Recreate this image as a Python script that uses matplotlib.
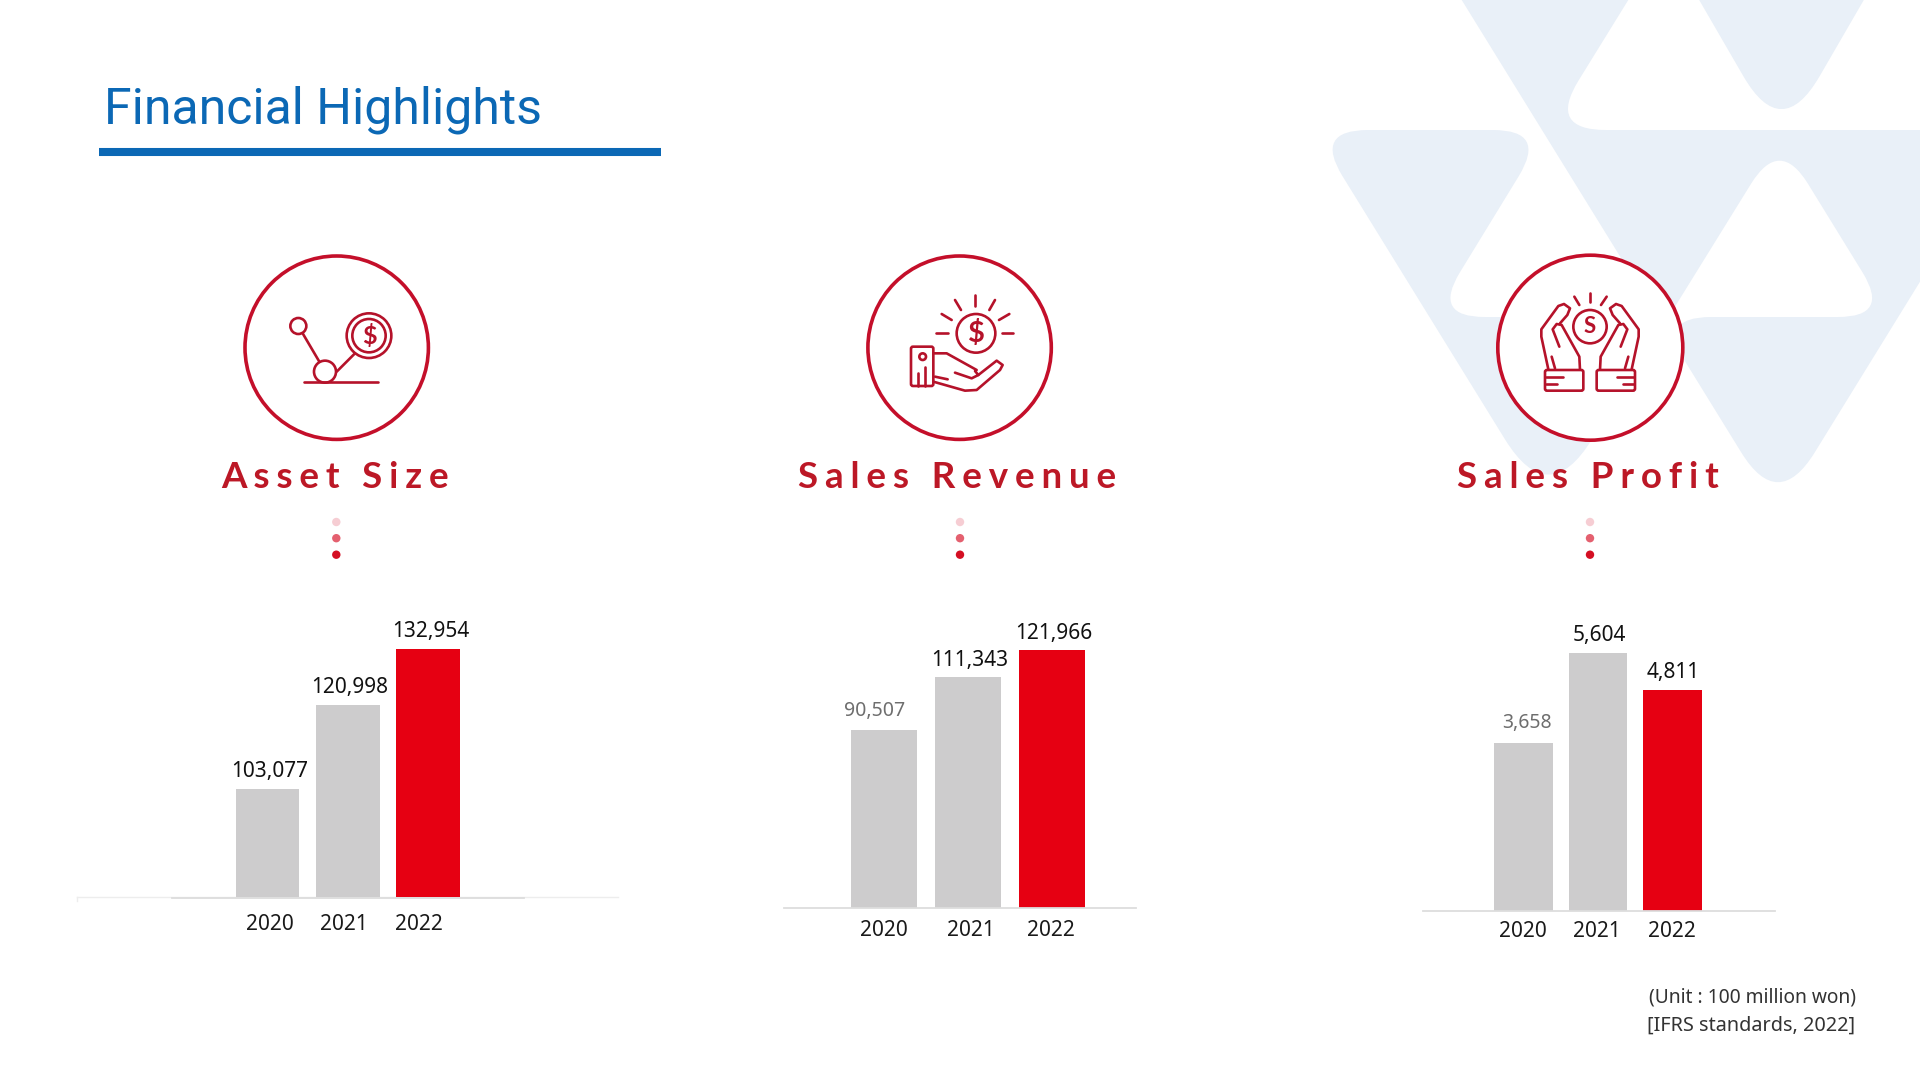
import numpy as np
import matplotlib
matplotlib.use('Agg')
import matplotlib.pyplot as plt
from matplotlib.path import Path
from matplotlib.patches import PathPatch, Circle, FancyBboxPatch

plt.rcParams['font.family'] = ['Noto Sans', 'DejaVu Sans']

years = ['2020', '2021', '2022']
asset_size = [103077, 120998, 132954]
sales_revenue = [90507, 111343, 121966]
sales_profit = [3658, 5604, 4811]
headings = ['Asset Size', 'Sales Revenue', 'Sales Profit']
page_title = 'Financial Highlights'
unit_notes = ['(Unit : 100 million won)', '[IFRS standards, 2022]']

BLUE = '#0B68B5'
GRAY = '#CDCCCD'
RED = '#E60012'
RING = '#C40F2A'
ICON = '#B5122A'
HEAD = '#BC1826'
SHAPE = '#E9F0F8'

W, H = 1920, 1080
fig = plt.figure(figsize=(W / 100, H / 100), dpi=100, facecolor='white')

# page layer in pixel coordinates, y down
bg = fig.add_axes([0, 0, 1, 1], zorder=0)
bg.set_xlim(0, W)
bg.set_ylim(H, 0)
bg.axis('off')


def rounded_shape(corners):
    verts, codes = [], []
    n = len(corners)
    for i, (x, y, d) in enumerate(corners):
        p = np.array([x, y], dtype=float)
        if d == 0:
            verts.append(p)
            codes.append(Path.MOVETO if i == 0 else Path.LINETO)
            continue
        a = np.array(corners[i - 1][:2], dtype=float)
        b = np.array(corners[(i + 1) % n][:2], dtype=float)
        p0 = p + (a - p) / np.linalg.norm(a - p) * d
        p2 = p + (b - p) / np.linalg.norm(b - p) * d
        verts += [p0, p, p2]
        codes += [Path.MOVETO if i == 0 else Path.LINETO, Path.CURVE3, Path.CURVE3]
    verts.append(verts[0])
    codes.append(Path.CLOSEPOLY)
    bg.add_patch(PathPatch(Path(verts, codes), fc=SHAPE, ec='none', zorder=1))


# background logo
rounded_shape([(1676, -40, 0), (1887, -40, 0), (1781.5, 142, 76)])
rounded_shape([(1437, -40, 0), (1653, -40, 0), (1548, 130, 58), (2000, 130, 0), (2000, 152, 0),
               (1778, 512, 70), (1657.7, 317, 53), (1890, 317, 52), (1779.6, 137.7, 54),
               (1663, 326, 0)])
rounded_shape([(1314, 130, 54), (1547, 130, 54), (1432.6, 317, 52), (1667, 317, 0),
               (1548.6, 510, 83)])

# page title
bg.text(104, 124, page_title, color=BLUE, fontsize=36, family=['Roboto', 'DejaVu Sans'],
        va='baseline', ha='left')
bg.plot([99, 661], [152.3, 152.3], color=BLUE, lw=5.8, solid_capstyle='butt')


def ring_and_dots(cx, cy, r, dots_x, head, head_x):
    bg.add_patch(Circle((cx, cy), r, fc='white', ec=RING, lw=2.6, zorder=2))
    bg.text(head_x, 478, '\u2009\u200a'.join(head), color=HEAD, fontsize=26.5, fontweight='bold',
            family=['Lato', 'DejaVu Sans'], ha='center', va='center', zorder=3)
    for y, c in zip([522, 538.2, 554.7], ['#F6CDD3', '#E4606F', '#D40F23']):
        bg.add_patch(Circle((dots_x, y), 4.2, fc=c, ec='none', zorder=3))


def icon_line(ox, oy, pts):
    pts = np.array(pts, dtype=float)
    bg.plot(ox + pts[:, 0] / 3, oy + pts[:, 1] / 3, color=ICON, lw=1.9, zorder=4,
            solid_capstyle='round', solid_joinstyle='round')


def icon_ring(ox, oy, x, y, r):
    bg.add_patch(Circle((ox + x / 3, oy + y / 3), r / 3, fc='none', ec=ICON, lw=1.9, zorder=4))


def icon_box(ox, oy, x0, y0, x1, y1):
    bg.add_patch(FancyBboxPatch((ox + x0 / 3 + 2, oy + y0 / 3 + 2), (x1 - x0) / 3 - 4, (y1 - y0) / 3 - 4,
                                boxstyle='round,pad=2', fc='white', ec=ICON, lw=1.9, zorder=4))


def icon_glyph(ox, oy, x, y, s, size):
    bg.text(ox + x / 3, oy + y / 3, s, color=ICON, fontsize=size, fontweight='bold',
            family=['Lato', 'DejaVu Sans'], ha='center', va='center', zorder=5)


ring_and_dots(336.7, 347.7, 91.7, 336.3, headings[0], 334.6)
ring_and_dots(959.6, 347.7, 91.7, 960, headings[1], 957.4)
ring_and_dots(1590.3, 347.7, 92.5, 1590, headings[2], 1588)

# icon 1
ox, oy = 230, 240
icon_ring(ox, oy, 205, 258, 24)
icon_line(ox, oy, [(218, 280), (268, 365)])
icon_ring(ox, oy, 285, 395, 33)
icon_line(ox, oy, [(320, 395), (375, 340)])
icon_line(ox, oy, [(222, 427), (445, 427)])
icon_ring(ox, oy, 417, 287, 67)
icon_ring(ox, oy, 417, 287, 50)
icon_glyph(ox, oy, 417, 287, '$', 18)

# icon 2
ox, oy = 850, 240
icon_ring(ox, oy, 378, 280, 58)
icon_glyph(ox, oy, 378, 280, '$', 21)
for seg in [[(258, 280), (295, 280)], [(455, 280), (490, 280)], [(374, 165), (374, 198)],
            [(315, 180), (333, 210)], [(435, 180), (418, 210)], [(275, 222), (305, 240)],
            [(478, 222), (447, 240)]]:
    icon_line(ox, oy, seg)
icon_box(ox, oy, 183, 320, 250, 438)
icon_ring(ox, oy, 218, 350, 10)
icon_line(ox, oy, [(205, 400), (205, 438)])
icon_line(ox, oy, [(225, 380), (225, 438)])
icon_line(ox, oy, [(250, 340), (290, 340), (380, 390)])
icon_line(ox, oy, [(315, 398), (365, 415), (385, 405), (375, 393)])
icon_line(ox, oy, [(385, 405), (440, 362), (458, 375), (450, 390), (380, 450), (345, 452), (250, 425)])
icon_line(ox, oy, [(255, 410), (293, 418)])

# icon 3
ox, oy = 1480, 240
icon_ring(ox, oy, 330, 260, 50)
icon_glyph(ox, oy, 330, 260, 'S', 16)
for seg in [[(330, 160), (330, 187)], [(283, 170), (298, 195)], [(380, 170), (363, 195)]]:
    icon_line(ox, oy, seg)
for flip in [False, True]:
    def m(pts):
        return [(660 - x, y) for x, y in pts] if flip else pts
    icon_line(ox, oy, m([(205, 388), (184, 290), (184, 268), (235, 198), (252, 192), (270, 205),
                         (262, 225), (240, 250)]))
    icon_line(ox, oy, m([(238, 320), (218, 268), (230, 252), (245, 255), (298, 350), (300, 390)]))
    icon_line(ox, oy, m([(215, 350), (225, 385)]))
    icon_box(ox, oy, 660 - 310 if flip else 195, 390, 660 - 195 if flip else 310, 452)
    icon_line(ox, oy, m([(198, 412), (250, 412)]))
    icon_line(ox, oy, m([(198, 432), (232, 432)]))


def bar_panel(values, base, left, right, baseline, top, center0, spacing, width,
              tick_pos, pad, dx, dy, light, line_drop=0):
    ax = fig.add_axes([left / W, 1 - baseline / H, (right - left) / W, (baseline - top) / H], zorder=2)
    ax.patch.set_alpha(0)
    ax.set_xlim((left - center0) / spacing, (right - center0) / spacing)
    ax.set_ylim(base, max(values))
    xs = np.arange(len(values))
    ax.bar(xs, values, width=width / spacing, color=[GRAY, GRAY, RED], clip_on=True)
    for s in ['top', 'left', 'right']:
        ax.spines[s].set_visible(False)
    ax.spines['bottom'].set_color('#DDDDDD')
    ax.spines['bottom'].set_linewidth(1.3)
    ax.spines['bottom'].set_position(('outward', line_drop))
    ax.set_yticks([])
    ax.set_xticks(tick_pos)
    ax.set_xticklabels(years, fontsize=15, color='#1a1a1a')
    ax.tick_params(axis='x', length=0, pad=pad)
    for i, v in enumerate(values):
        thin = i in light
        ax.annotate(f'{v:,}', (xs[i], v), xytext=(dx[i], dy[i]), textcoords='offset pixels',
                    ha='center', va='center', fontsize=14 if thin else 15,
                    color='#6e6e6e' if thin else '#111111',
                    annotation_clip=False)
    return ax


bar_panel(asset_size, 80000, 172, 524, 897, 649, 267.4, 80.4, 63.5,
          [0.035, 0.949, 1.883], 11.2, [2.4, 2, 2.4], [17.5, 17, 17], [], line_drop=1)
bg.plot([77, 617.6], [897, 897], color='#EDEDED', lw=1, zorder=1)
bg.plot([77, 77], [897, 901], color='#EDEDED', lw=1, zorder=1)
bar_panel(sales_revenue, 20000, 784, 1136, 908, 650, 883.6, 84.1, 66,
          [0, 1.033, 1.995], 9, [-9, 1.6, 1.6], [18.5, 16.5, 17], [0])
bar_panel(sales_profit, 0, 1422.7, 1774.7, 911, 653, 1523.3, 74.5, 58.5,
          [0, 0.983, 1.99], 7.5, [3.4, 2, 0.8], [19.5, 17.5, 17], [0])

# unit note
bg.text(1856, 997, unit_notes[0], fontsize=13.8, color='#333333', ha='right', va='center', zorder=3)
bg.text(1855, 1025.7, unit_notes[1], fontsize=14.3, color='#333333', ha='right', va='center', zorder=3)

fig.savefig('out.png', dpi=100)
